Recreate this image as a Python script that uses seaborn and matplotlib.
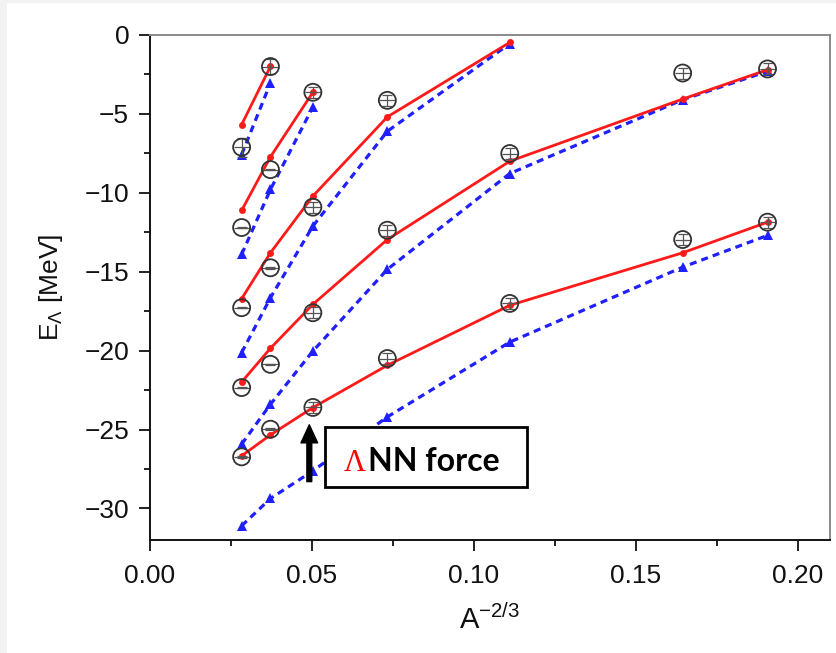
import matplotlib
matplotlib.use("Agg")
import matplotlib.pyplot as plt
from matplotlib.patches import Rectangle
import seaborn as sns
import numpy as np
import pandas as pd

# x positions (A^-2/3) of the hypernuclei columns
x_cols = [0.0283, 0.0372, 0.0503, 0.0733, 0.1111, 0.1645, 0.1907]

# calculated single-particle energies with LambdaNN force (red, solid)
red_levels = [
    [-26.67, -25.34, -23.61, -20.93, -17.13, -13.80, -11.86],
    [-21.99, -19.85, -17.07, -12.96, -8.00, -4.06, -2.20],
    [-16.71, -13.80, -10.21, -5.19, -0.47],
    [-11.12, -7.72, -3.63],
    [-5.68, -1.99],
]
# without LambdaNN force (blue, dashed)
blue_levels = [
    [-31.10, -29.37, -27.62, -24.20, -19.46, -14.71, -12.70],
    [-25.93, -23.40, -20.03, -14.85, -8.78, -4.10, -2.30],
    [-20.13, -16.65, -12.11, -6.10, -0.55],
    [-13.90, -9.79, -4.56],
    [-7.58, -3.04],
]

# experimental data
exp_x = [0.0283] * 5 + [0.0372] * 5 + [0.0503] * 4 + [0.0733] * 3 + [0.1111] * 2 + [0.1645] * 2 + [0.1907] * 2
exp_y = [-7.11, -12.20, -17.28, -22.34, -26.73,
         -2.00, -8.53, -14.75, -20.87, -24.98,
         -3.63, -10.91, -17.60, -23.60,
         -4.14, -12.37, -20.50,
         -7.51, -17.01,
         -2.41, -12.96,
         -2.15, -11.86]
exp_err = [0.6, 0.05, 0.05, 0.05, 0.05,
           0.5, 0.05, 0.05, 0.05, 0.05,
           0.35, 0.35, 0.35, 0.35,
           0.35, 0.35, 0.35,
           0.35, 0.35,
           0.35, 0.35,
           0.35, 0.35]

sns.set_style("ticks")
plt.rcParams["font.family"] = ["Liberation Sans", "DejaVu Sans"]
plt.rcParams["mathtext.fontset"] = "custom"
plt.rcParams["mathtext.rm"] = "Liberation Sans"
plt.rcParams["mathtext.it"] = "Liberation Sans"

fig = plt.figure(figsize=(8.37, 6.53), dpi=100, facecolor="#f2f2f2")
fig.add_artist(Rectangle((7 / 837, 0), 1, 1 - 3 / 653, transform=fig.transFigure,
                         facecolor="white", edgecolor="none", zorder=0))
ax = fig.add_axes([150 / 837, 1 - 540 / 653, 680 / 837, 505 / 653])
ax.set_facecolor("white")

rows = []
for k, lev in enumerate(red_levels):
    for i, v in enumerate(lev):
        rows.append({"x": x_cols[i], "E": v, "shell": k, "calc": "with"})
for k, lev in enumerate(blue_levels):
    for i, v in enumerate(lev):
        rows.append({"x": x_cols[i], "E": v, "shell": k, "calc": "without"})
df = pd.DataFrame(rows)

sns.lineplot(data=df[df.calc == "without"], x="x", y="E", units="shell", estimator=None,
             sort=False, color="#1f1fff", linestyle=(0, (2.2, 1.6)), linewidth=2.3,
             marker="^", markersize=6.5, markeredgewidth=0, ax=ax, zorder=3)
sns.lineplot(data=df[df.calc == "with"], x="x", y="E", units="shell", estimator=None,
             sort=False, color="#ff1a1a", linewidth=2.0,
             marker="o", markersize=5, markeredgewidth=0, ax=ax, zorder=4)

ax.errorbar(exp_x, exp_y, yerr=exp_err, fmt="none", ecolor="#555555", elinewidth=0.9,
            capsize=3.5, capthick=0.9, zorder=5)
ax.plot(exp_x, exp_y, linestyle="none", marker="_", markersize=11, color="#555555",
        markeredgewidth=0.9, zorder=5)
sns.scatterplot(x=exp_x, y=exp_y, marker="o", s=150, facecolor="none",
                edgecolor="#333333", linewidth=1.3, ax=ax, zorder=6)

ax.set_xlim(0, 0.21)
ax.set_ylim(-32, 0)
ax.set_xticks([0.00, 0.05, 0.10, 0.15, 0.20])
ax.set_xticklabels(["0.00", "0.05", "0.10", "0.15", "0.20"])
ax.set_xticks([0.025, 0.075, 0.125, 0.175], minor=True)
ax.set_yticks([0, -5, -10, -15, -20, -25, -30])
ax.set_yticklabels(["0", "\u22125", "\u221210", "\u221215", "\u221220", "\u221225", "\u221230"])
ax.set_yticks([-2.5, -7.5, -12.5, -17.5, -22.5, -27.5], minor=True)
ax.tick_params(axis="both", which="major", length=8, width=1.4, labelsize=19, color="#222222",
               labelcolor="#111111")
ax.tick_params(axis="both", which="minor", length=4, width=1.4, color="#222222")
ax.tick_params(axis="y", which="major", pad=7)
ax.tick_params(axis="x", which="major", pad=9)

for s in ["left", "bottom"]:
    ax.spines[s].set_color("#111111")
    ax.spines[s].set_linewidth(1.4)
for s in ["top", "right"]:
    ax.spines[s].set_color("#8a8a8a")
    ax.spines[s].set_linewidth(1.4)

ax.set_xlabel(r"A$^{\mathregular{-2/3}}$", fontsize=21, color="#111111")
ax.xaxis.set_label_coords(0.5, -0.128)
ax.set_ylabel(r"E$_\Lambda$ [MeV]", fontsize=19, color="#111111")
ax.yaxis.set_label_coords(-0.125, 0.5)

# LambdaNN force annotation
ax.annotate("", xy=(0.0492, -24.7), xytext=(0.0492, -28.3),
            arrowprops=dict(facecolor="black", edgecolor="black", width=3.5,
                            headwidth=12, headlength=13, shrink=0), zorder=7)
fig.add_artist(Rectangle((325 / 837, 1 - 487 / 653), 202 / 837, 60 / 653,
                         transform=fig.transFigure, facecolor="white",
                         edgecolor="black", linewidth=2, zorder=8))
fig.text(344 / 837, 1 - 471 / 653, "\u039b", color="red", fontsize=22,
         family=["Liberation Serif", "DejaVu Serif"], ha="left", va="baseline", zorder=9)
fig.text(368 / 837, 1 - 471 / 653, "NN force", color="black", fontsize=23,
         fontweight="bold", family=["Lato", "DejaVu Sans"], ha="left", va="baseline", zorder=9)

fig.savefig("out.png", dpi=100, facecolor=fig.get_facecolor())
